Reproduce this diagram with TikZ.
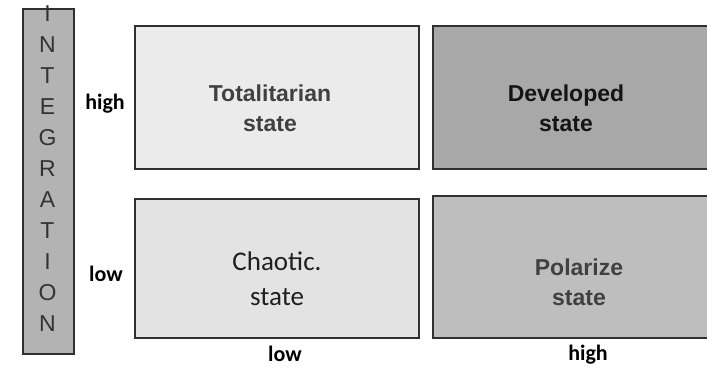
\documentclass[tikz,border=0pt]{standalone}
\usepackage{fontspec}
\setmainfont{Liberation Sans}
\newfontfamily\calibri{Carlito}
\definecolor{barfill}{HTML}{B3B3B3}
\definecolor{tlfill}{HTML}{EBEBEB}
\definecolor{trfill}{HTML}{A8A8A8}
\definecolor{blfill}{HTML}{E3E3E3}
\definecolor{brfill}{HTML}{BEBEBE}
\definecolor{edge}{HTML}{303030}
\tikzset{
  cell/.style={draw=edge, line width=1.5pt, inner sep=0pt, anchor=north west},
  celltext/.style={font=\fontsize{23}{30}\selectfont\bfseries, align=center, inner sep=0pt},
  axislabel/.style={font=\calibri\fontsize{22}{24}\selectfont\bfseries, text=black, inner sep=0pt},
  barletter/.style={font=\fontsize{23}{24}\selectfont, text=black!80, inner sep=0pt}
}
\begin{document}
\begin{tikzpicture}[x=1pt, y=-1pt]
  \useasboundingbox (0,0) rectangle (707,367);
  \fill[white] (0,0) rectangle (707,367);

  % vertical axis bar
  \node[cell, fill=barfill, minimum width=51pt, minimum height=345pt] (bar) at (22,8) {};
  \foreach \ch [count=\i from 0] in {I,N,T,E,G,R,A,T,I,O,N}
    \node[barletter] (l\i) at (47.5, 14+31*\i) {\ch};

  % quadrant boxes
  \node[cell, fill=tlfill, minimum width=284pt, minimum height=143pt] (tl) at (134,25) {};
  \node[cell, fill=trfill, minimum width=285pt, minimum height=143pt] (tr) at (432,25) {};
  \node[cell, fill=blfill, minimum width=284pt, minimum height=139pt] (bl) at (134,198) {};
  \node[cell, fill=brfill, minimum width=285pt, minimum height=142pt] (br) at (432,195) {};

  % quadrant labels
  \node[celltext, text=black!75] (tltext) at (270,108) {Totalitarian\\state};
  \node[celltext, text=black!92] (trtext) at (566,108) {Developed\\state};
  \node[celltext, font=\calibri\fontsize{27}{35}\selectfont, text=black!88] (bltext) at (277,279) {Chaotic.\\state};
  \node[celltext, text=black!75] (brtext) at (579,282) {Polarize\\state};

  % axis levels
  \node[axislabel] (yhigh) at (105,104) {high};
  \node[axislabel] (ylow) at (106,274) {low};
  \node[axislabel] (xlow) at (285,354) {low};
  \node[axislabel] (xhigh) at (588,355) {high};
\end{tikzpicture}
\end{document}
